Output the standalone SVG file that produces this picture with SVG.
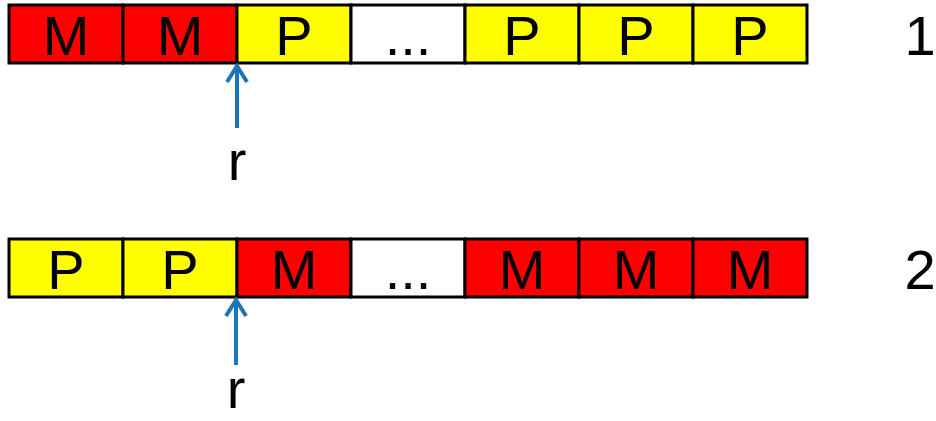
<svg xmlns="http://www.w3.org/2000/svg" width="936" height="421" viewBox="0 0 936 421">
<style>
.c{stroke:#000;stroke-width:3}
.m{fill:#ff0000}
.p{fill:#ffff00}
.w{fill:#ffffff}
text{font-family:"Liberation Sans",Arial,sans-serif;font-size:56px;fill:#000;text-anchor:middle}
.arr{stroke:#1b75bb;stroke-width:4;fill:none;stroke-linecap:butt}
</style>
<g id="row1">
<g id="r1c1"><rect class="c m" x="9" y="5" width="114" height="58"/><text x="66" y="55">M</text></g>
<g id="r1c2"><rect class="c m" x="123" y="5" width="114" height="58"/><text x="180" y="55">M</text></g>
<g id="r1c3"><rect class="c p" x="237" y="5" width="114" height="58"/><text x="294" y="55">P</text></g>
<g id="r1c4"><rect class="c w" x="351" y="5" width="114" height="58"/><text x="408" y="55">...</text></g>
<g id="r1c5"><rect class="c p" x="465" y="5" width="114" height="58"/><text x="522" y="55">P</text></g>
<g id="r1c6"><rect class="c p" x="579" y="5" width="114" height="58"/><text x="636" y="55">P</text></g>
<g id="r1c7"><rect class="c p" x="693" y="5" width="114" height="58"/><text x="750" y="55">P</text></g>
<text id="label1" x="920" y="55">1</text>
</g>
<g id="row2">
<g id="r2c1"><rect class="c p" x="9" y="239" width="114" height="58"/><text x="66" y="289">P</text></g>
<g id="r2c2"><rect class="c p" x="123" y="239" width="114" height="58"/><text x="180" y="289">P</text></g>
<g id="r2c3"><rect class="c m" x="237" y="239" width="114" height="58"/><text x="294" y="289">M</text></g>
<g id="r2c4"><rect class="c w" x="351" y="239" width="114" height="58"/><text x="408" y="289">...</text></g>
<g id="r2c5"><rect class="c m" x="465" y="239" width="114" height="58"/><text x="522" y="289">M</text></g>
<g id="r2c6"><rect class="c m" x="579" y="239" width="114" height="58"/><text x="636" y="289">M</text></g>
<g id="r2c7"><rect class="c m" x="693" y="239" width="114" height="58"/><text x="750" y="289">M</text></g>
<text id="label2" x="920" y="289">2</text>
</g>
<g id="connectors">
<path class="arr" d="M237 128 V66 M227 82 L237 66 L247 82"/>
<path class="arr" d="M236 365 V300 M226 316 L236 300 L246 316"/>
</g>
<g id="pointer1"><text x="237" y="180">r</text></g>
<g id="pointer2"><text x="236" y="408">r</text></g>
</svg>
